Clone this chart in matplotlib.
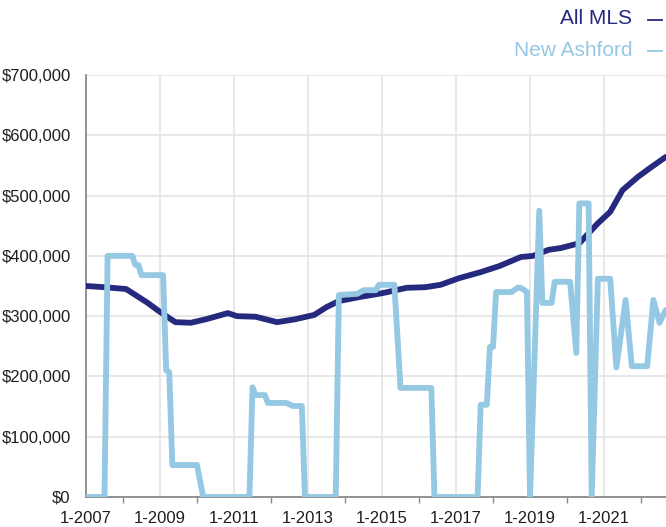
import numpy as np
import matplotlib.pyplot as plt
from matplotlib.lines import Line2D
from matplotlib.ticker import FuncFormatter

plt.rcParams['font.family'] = ['Liberation Sans', 'DejaVu Sans']

# months counted from January 2007, prices in thousands of dollars
mls_month = [0, 6, 13, 20, 24, 29, 34, 39, 46, 49, 55, 62, 68, 74, 78, 82, 89, 96,
             104, 110, 115, 121, 128, 134, 141, 145, 150, 154, 160, 166, 170, 174,
             179, 183, 188]
mls_price = [350, 348, 345, 322, 307, 290, 289, 295, 305, 300, 299, 290, 295, 302,
             315, 325, 332, 338, 347, 348, 352, 363, 373, 383, 398, 400, 410, 413,
             421, 454, 473, 509, 531, 546, 564]

na_month = [0, 6, 7, 15, 16, 17, 18, 25, 26, 27, 28, 36, 38, 53, 54, 55, 58, 59, 65,
            67, 70, 71, 81, 82, 88, 90, 94, 95, 100, 102, 112, 113, 127, 128, 130,
            131, 132, 133, 138, 140, 141, 143, 144, 147, 148, 151, 152, 157, 159,
            160, 163, 164, 166, 170, 172, 175, 177, 182, 184, 186, 188]
na_price = [0, 0, 400, 400, 385, 385, 368, 368, 210, 207, 53, 53, 0, 0, 182, 169, 169,
            156, 156, 151, 151, 0, 0, 335, 337, 343, 343, 352, 352, 181, 181, 0, 0,
            153, 153, 249, 249, 340, 340, 347, 347, 340, 0, 475, 322, 322, 357, 357,
            239, 487, 487, 0, 362, 362, 215, 327, 217, 217, 327, 289, 310]

tick_years = [2007, 2009, 2011, 2013, 2015, 2017, 2019, 2021]

mls_x = 2007 + np.array(mls_month) / 12
na_x = 2007 + np.array(na_month) / 12

fig = plt.figure(figsize=(6.66, 5.27), dpi=100)
ax = fig.add_axes([86 / 666, 30 / 527, 1 - 86 / 666, 422 / 527])

ax.plot(mls_x, np.array(mls_price) * 1000, color='#262a7e', lw=4.2,
        solid_joinstyle='round', solid_capstyle='round', zorder=3)
ax.plot(na_x, np.array(na_price) * 1000, color='#94c8e3', lw=4.2,
        solid_joinstyle='round', solid_capstyle='round', zorder=4)

ax.set_xlim(2007, 2007 + 188.1 / 12)
ax.set_ylim(0, 700000)
ax.set_yticks(np.arange(0, 700001, 100000))
ax.yaxis.set_major_formatter(FuncFormatter(lambda v, p: '$0' if v == 0 else f'${v:,.0f}'))
ax.set_xticks(tick_years)
ax.set_xticklabels([f'1-{y}' for y in tick_years])
ax.set_xticks([y + 1 for y in tick_years], minor=True)

ax.grid(True, color='#e2e2e2', lw=1.1, zorder=0)
ax.set_axisbelow(True)
for s in ['top', 'right']:
    ax.spines[s].set_visible(False)
for s in ['left', 'bottom']:
    ax.spines[s].set_color('#8a8a8a')
    ax.spines[s].set_linewidth(1.3)
ax.tick_params(axis='both', which='major', length=0, labelsize=12,
               labelcolor='#1e1e1e')
ax.tick_params(axis='y', pad=11)
ax.tick_params(axis='x', pad=10)
ax.tick_params(axis='x', which='minor', length=4, color='#8a8a8a', width=1)

fig.text(632 / 666, 1 - 19 / 527, 'All MLS', ha='right', va='center',
         fontsize=15, color='#262a7e')
fig.text(632 / 666, 1 - 50 / 527, 'New Ashford', ha='right', va='center',
         fontsize=15, color='#94c8e3')
fig.add_artist(Line2D([648 / 666, 662 / 666], [1 - 20 / 527] * 2,
                      color='#262a7e', lw=1.3))
fig.add_artist(Line2D([648 / 666, 662 / 666], [1 - 51 / 527] * 2,
                      color='#94c8e3', lw=1.3))

fig.savefig('out.png', dpi=100)
